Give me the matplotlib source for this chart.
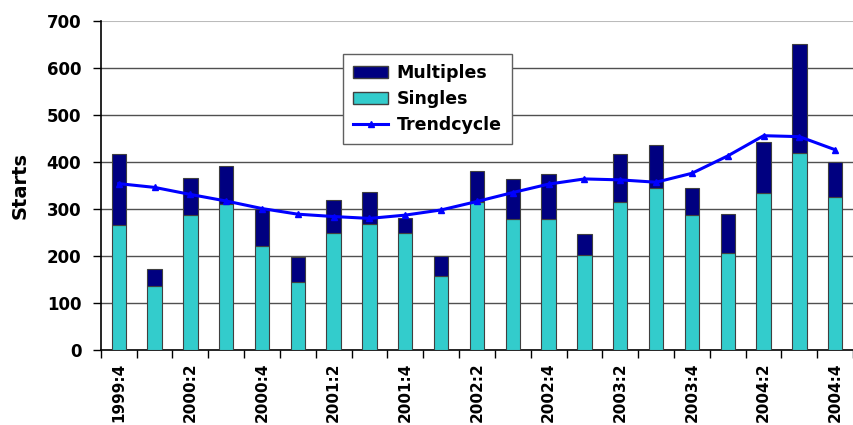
import matplotlib.pyplot as plt
import numpy as np
from matplotlib.patches import Patch
from matplotlib.lines import Line2D

# Quarterly housing starts, 1999:4 to 2004:4
quarters = ["1999:4", "2000:1", "2000:2", "2000:3", "2000:4", "2001:1", "2001:2",
            "2001:3", "2001:4", "2002:1", "2002:2", "2002:3", "2002:4", "2003:1",
            "2003:2", "2003:3", "2003:4", "2004:1", "2004:2", "2004:3", "2004:4"]
singles = [265, 137, 288, 311, 222, 145, 250, 268, 248, 157, 315,
           278, 279, 203, 315, 344, 288, 207, 334, 420, 326]
totals = [417, 172, 366, 392, 300, 197, 320, 337, 281, 199, 381,
          363, 374, 246, 417, 437, 345, 289, 443, 652, 399]
trend = [354, 346, 331, 317, 301, 289, 284, 280, 287, 298, 316,
         335, 353, 364, 362, 357, 376, 413, 456, 454, 426]
multiples = [t - s for t, s in zip(totals, singles)]

plt.rcParams['font.family'] = ['DejaVu Sans']

fig = plt.figure(figsize=(8.54, 4.25), dpi=100)
ax = fig.add_axes([0.118, 0.1765, 0.881, 0.774])

x = np.arange(len(quarters))
ax.bar(x, singles, width=0.4, color='#33CCCC', edgecolor='#404040', linewidth=0.8, zorder=3)
ax.bar(x, multiples, width=0.4, bottom=singles, color='#000080', edgecolor='#404040',
       linewidth=0.8, zorder=3)
ax.plot(x, trend, color='#0000FF', linewidth=2.2, marker='^', markersize=5, zorder=4)

ax.set_xlim(-0.5, len(quarters) - 0.5)
ax.set_ylim(0, 700)
ax.set_yticks(range(0, 701, 100))
for v in range(100, 700, 100):
    ax.axhline(v, color='#505050', linewidth=1, zorder=1)
ax.axhline(700, color='#bbbbbb', linewidth=1.5, zorder=1)

ax.spines['top'].set_visible(False)
ax.spines['right'].set_visible(False)
ax.spines['left'].set_linewidth(1.2)
ax.spines['bottom'].set_linewidth(1.2)

# tick marks at category boundaries, labels every second quarter
ax.set_xticks(np.arange(-0.5, len(quarters), 1.0))
ax.set_xticklabels([])
ax.tick_params(axis='x', which='major', length=6, width=1)
ax.set_xticks(x[::2], minor=True)
ax.set_xticklabels(quarters[::2], minor=True, rotation=90, fontsize=11, fontweight='bold')
ax.tick_params(axis='x', which='minor', length=0, pad=9)
ax.tick_params(axis='y', length=6, width=1, labelsize=12, pad=8)
for lbl in ax.get_yticklabels():
    lbl.set_fontweight('bold')

ax.set_ylabel('Starts', fontsize=14, fontweight='bold', labelpad=12)

handles = [Patch(facecolor='#000080', edgecolor='#404040', label='Multiples'),
           Patch(facecolor='#33CCCC', edgecolor='#404040', label='Singles'),
           Line2D([0], [0], color='#0000FF', linewidth=2.2, marker='^', markersize=5,
                  label='Trendcycle')]
leg = ax.legend(handles=handles, loc='upper left', bbox_to_anchor=(0.322, 0.9),
                borderaxespad=0, fancybox=False, framealpha=1, edgecolor='#606060',
                prop={'weight': 'bold', 'size': 12.5}, handlelength=2.0,
                handletextpad=0.5, borderpad=0.6, labelspacing=0.45)
leg.get_frame().set_linewidth(1)
leg.set_zorder(5)

fig.savefig('out.png', dpi=100)
